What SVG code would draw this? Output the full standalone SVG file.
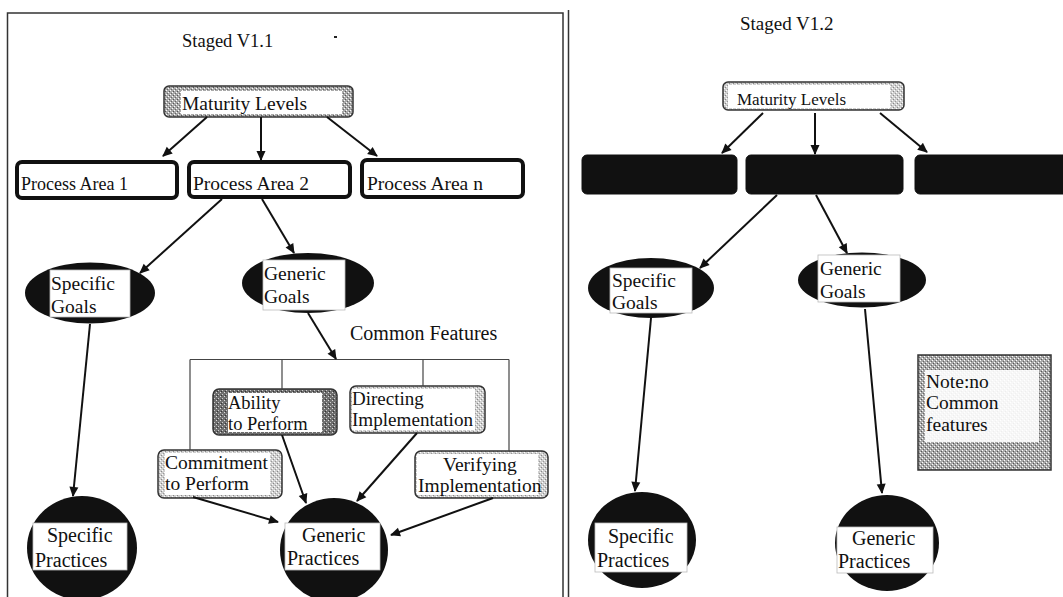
<svg xmlns="http://www.w3.org/2000/svg" width="1063" height="597" viewBox="0 0 1063 597">
<defs>
<pattern id="stip" width="4" height="4" patternUnits="userSpaceOnUse"><rect width="4" height="4" fill="#a9a9a9"/><rect x="0" y="0" width="1" height="1" fill="#fff"/><rect x="2" y="2" width="1" height="1" fill="#fff"/><rect x="1" y="3" width="1" height="1" fill="#555"/><rect x="3" y="1" width="1" height="1" fill="#666"/></pattern>
<pattern id="stipDark" width="4" height="4" patternUnits="userSpaceOnUse"><rect width="4" height="4" fill="#6e6e6e"/><rect x="0" y="0" width="1" height="1" fill="#ddd"/><rect x="2" y="2" width="1" height="1" fill="#ccc"/><rect x="1" y="3" width="1" height="1" fill="#333"/></pattern>
<pattern id="stipLight" width="4" height="4" patternUnits="userSpaceOnUse"><rect width="4" height="4" fill="#cfcfcf"/><rect x="0" y="0" width="1" height="1" fill="#fff"/><rect x="2" y="2" width="1" height="1" fill="#fff"/><rect x="1" y="3" width="1" height="1" fill="#888"/><rect x="3" y="1" width="1" height="1" fill="#999"/></pattern>
<marker id="ah" viewBox="0 0 10 10" refX="9" refY="5" markerWidth="11" markerHeight="10" markerUnits="userSpaceOnUse" orient="auto"><path d="M0,0.5 L10,5 L0,9.5 z" fill="#111"/></marker>
<style>
text{font-family:"Liberation Serif","Times New Roman",serif;fill:#111;font-size:19.5px}
.frame{fill:none;stroke:#333;stroke-width:1.5}
.pa{fill:#fff;stroke:#111;stroke-width:4}
.blk{fill:#111;stroke:#111;stroke-width:1}
.ell{fill:#111}
.wr{fill:#fff;stroke:#bbb;stroke-width:0.8}
.box{stroke:#333;stroke-width:1.5}
.conn line{stroke:#111;stroke-width:2;marker-end:url(#ah)}
.brk line{stroke:#444;stroke-width:1.2}
</style>
</defs>
<rect width="1063" height="597" fill="#fff"/>

<g id="frames">
<rect class="frame" x="7.5" y="13" width="555.5" height="600"/>
<line class="frame" x1="568.5" y1="10" x2="568.5" y2="597"/>
<rect x="334" y="36" width="3" height="2" fill="#222"/>
</g>

<g id="title-v11"><text x="182" y="47" style="font-size:18.5px">Staged V1.1</text></g>
<g id="title-v12"><text x="740" y="30" style="font-size:19px">Staged V1.2</text></g>

<!-- Left panel nodes -->
<g id="maturity-l">
<rect class="box" x="164" y="86" width="189" height="31" rx="5" fill="url(#stip)"/>
<rect x="181" y="91" width="161" height="23" fill="#fff"/>
<text x="182" y="110">Maturity Levels</text>
</g>
<g id="pa1"><rect class="pa" x="17" y="162" width="160" height="36" rx="5"/><text x="21" y="190" style="font-size:18px">Process Area 1</text></g>
<g id="pa2"><rect class="pa" x="189" y="162" width="161" height="35" rx="5"/><text x="193" y="190">Process Area 2</text></g>
<g id="pan"><rect class="pa" x="362" y="160" width="161" height="37" rx="5"/><text x="367" y="190">Process Area n</text></g>

<g id="sg-l"><ellipse class="ell" cx="90" cy="293" rx="65" ry="30.5"/><rect class="wr" x="50" y="270" width="80" height="47"/><text x="51" y="290">Specific</text><text x="51" y="313">Goals</text></g>
<g id="gg-l"><ellipse class="ell" cx="308" cy="283" rx="66" ry="30"/><rect class="wr" x="263" y="260" width="82" height="50"/><text x="264" y="280">Generic</text><text x="264" y="303">Goals</text></g>

<g id="common-features-label"><text x="350" y="340" style="font-size:20px">Common Features</text></g>

<g id="ability">
<rect class="box" x="213" y="389" width="124" height="46" rx="6" fill="url(#stipDark)"/>
<rect x="228" y="393" width="94" height="39" fill="#fff"/>
<text x="228" y="409" style="font-size:18.5px">Ability</text><text x="228" y="430" style="font-size:18.5px">to Perform</text>
</g>
<g id="directing">
<rect class="box" x="350" y="386" width="135" height="47" rx="6" fill="url(#stipLight)"/>
<rect x="352" y="389" width="123" height="41" fill="#fff"/>
<text x="352" y="405" style="font-size:19px">Directing</text><text x="352" y="426" style="font-size:19px" textLength="121" lengthAdjust="spacingAndGlyphs">Implementation</text>
</g>
<g id="commitment">
<rect class="box" x="158" y="450" width="124" height="48" rx="6" fill="url(#stipLight)"/>
<rect x="165" y="453" width="105" height="42" fill="#fff"/>
<text x="165" y="469" style="font-size:19.5px">Commitment</text><text x="165" y="490" style="font-size:19.5px">to Perform</text>
</g>
<g id="verifying">
<rect class="box" x="415" y="451" width="133" height="47" rx="6" fill="url(#stipLight)"/>
<rect x="417" y="454" width="121" height="41" fill="#fff"/>
<text x="443" y="471">Verifying</text><text x="418" y="492">Implementation</text>
</g>

<g id="sp-l"><ellipse class="ell" cx="82" cy="548" rx="55" ry="52"/><rect class="wr" x="33" y="523" width="94" height="47"/><text x="47" y="542" style="font-size:20px">Specific</text><text x="35" y="567" style="font-size:20px">Practices</text></g>
<g id="gp-l"><ellipse class="ell" cx="334" cy="550" rx="54" ry="52"/><rect class="wr" x="285" y="523" width="95" height="47"/><text x="302" y="542" style="font-size:20px">Generic</text><text x="287" y="565" style="font-size:20px">Practices</text></g>

<!-- Right panel nodes -->
<g id="maturity-r">
<rect class="box" x="723" y="82" width="181" height="28" rx="5" fill="url(#stipLight)"/>
<rect x="728" y="85" width="162" height="23" fill="#fff"/>
<text x="737" y="105" style="font-size:17px">Maturity Levels</text>
</g>
<g id="pa-r1"><rect class="blk" x="582" y="155" width="155" height="39" rx="5"/></g>
<g id="pa-r2"><rect class="blk" x="746" y="155" width="157" height="39" rx="5"/></g>
<g id="pa-r3"><rect class="blk" x="915" y="155" width="160" height="39" rx="5"/></g>

<g id="sg-r"><ellipse class="ell" cx="651" cy="288" rx="63" ry="30"/><rect class="wr" x="610" y="268" width="82" height="45"/><text x="612" y="287">Specific</text><text x="612" y="309">Goals</text></g>
<g id="gg-r"><ellipse class="ell" cx="862" cy="280" rx="64" ry="27.5"/><rect class="wr" x="818" y="255" width="82" height="47"/><text x="820" y="275">Generic</text><text x="820" y="298">Goals</text></g>

<g id="note">
<rect x="918" y="355" width="133" height="115" fill="url(#stip)" stroke="#333" stroke-width="1.5"/>
<rect x="925" y="370" width="114" height="72" fill="#fff" opacity="0.9"/>
<text x="926" y="388">Note:no</text><text x="926" y="409">Common</text><text x="926" y="431">features</text>
</g>

<g id="sp-r"><ellipse class="ell" cx="642" cy="540" rx="54" ry="48"/><rect class="wr" x="595" y="523" width="92" height="49"/><text x="608" y="543" style="font-size:20px">Specific</text><text x="597" y="567" style="font-size:20px">Practices</text></g>
<g id="gp-r"><ellipse class="ell" cx="887" cy="543" rx="52" ry="48"/><rect class="wr" x="837" y="527" width="96" height="46"/><text x="852" y="545" style="font-size:20px">Generic</text><text x="838" y="568" style="font-size:20px">Practices</text></g>

<g id="connectors">
<g class="brk">
<line x1="190" y1="359.5" x2="509" y2="359.5"/>
<line x1="190" y1="359.5" x2="190" y2="450"/>
<line x1="282" y1="359.5" x2="282" y2="389"/>
<line x1="423" y1="359.5" x2="423" y2="386"/>
<line x1="509" y1="359.5" x2="509" y2="451"/>
</g>
<g class="conn">
<line x1="207" y1="117" x2="163" y2="156"/>
<line x1="261" y1="117" x2="261" y2="160"/>
<line x1="327" y1="117" x2="377" y2="156"/>
<line x1="222" y1="199" x2="140" y2="273"/>
<line x1="262" y1="199" x2="294" y2="253"/>
<line x1="308" y1="313" x2="336" y2="359"/>
<line x1="90" y1="324" x2="73" y2="496"/>
<line x1="193" y1="497" x2="278" y2="522"/>
<line x1="282" y1="435" x2="306" y2="503"/>
<line x1="417" y1="433" x2="357" y2="501"/>
<line x1="493" y1="498" x2="391" y2="535"/>
<line x1="763" y1="113" x2="722" y2="153"/>
<line x1="815" y1="113" x2="815" y2="154"/>
<line x1="880" y1="113" x2="927" y2="152"/>
<line x1="777" y1="195" x2="700" y2="268"/>
<line x1="816" y1="195" x2="847" y2="253"/>
<line x1="651" y1="318" x2="635" y2="491"/>
<line x1="865" y1="309" x2="882" y2="493"/>
</g>
</g>
</svg>
